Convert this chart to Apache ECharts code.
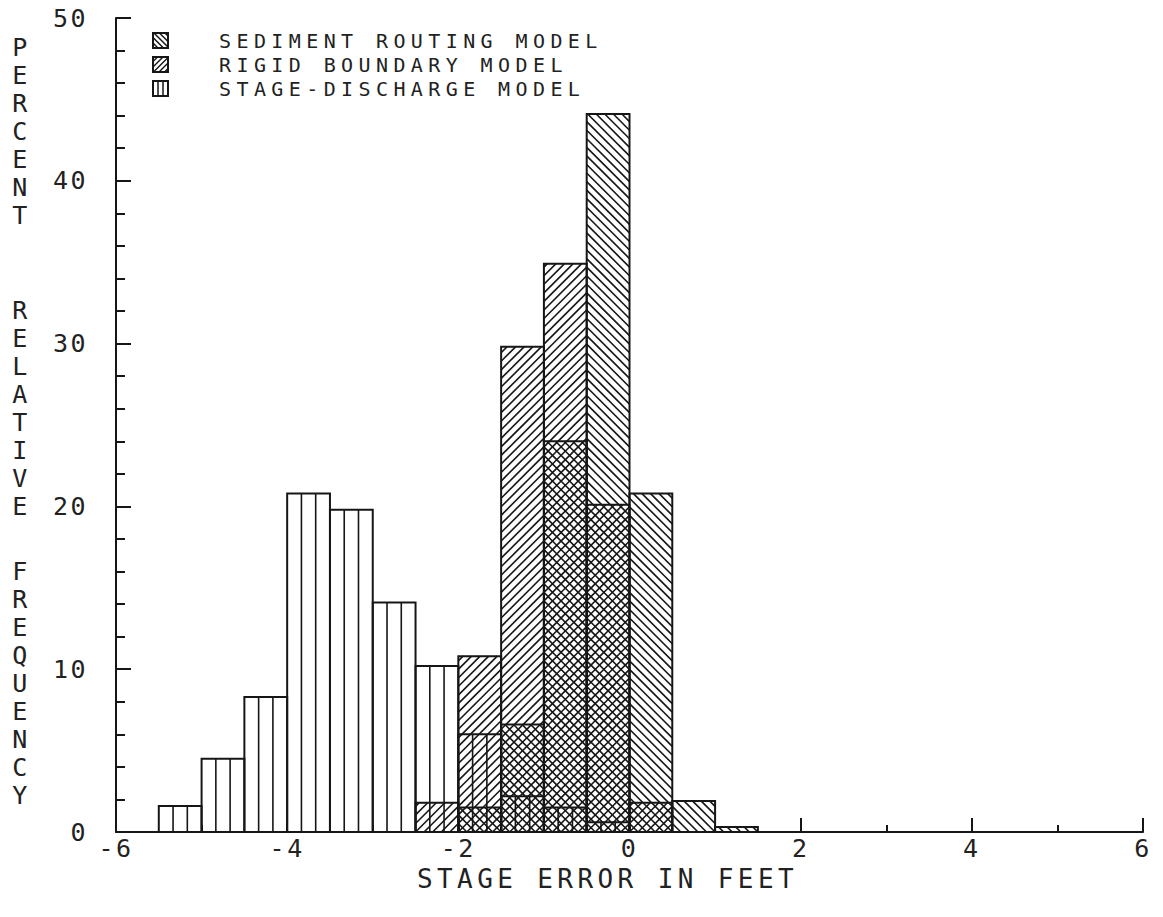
<!DOCTYPE html>
<html><head><meta charset="utf-8">
<script src="https://cdn.jsdelivr.net/npm/echarts@6/dist/echarts.min.js"></script>
<style>
html,body{margin:0;padding:0;background:#fff;}
#chart{width:1163px;height:917px;}
#chart text{letter-spacing:2.5px;}
</style></head><body><div id="chart"></div>
<script>
// ---- data ----
const binStarts = [-5.5,-5,-4.5,-4,-3.5,-3,-2.5,-2,-1.5,-1,-0.5,0,0.5,1];
const binWidth = 0.5;
const stageDischarge  = [1.6,4.5,8.3,20.8,19.8,14.1,10.2,6.0,2.2,1.5,0.6,0,0,0];
const rigidBoundary   = [0,0,0,0,0,0,1.8,10.8,29.8,34.9,20.1,1.8,0,0];
const sedimentRouting = [0,0,0,0,0,0,0,1.5,6.6,24.0,44.1,20.8,1.9,0.3];
const xTickValues = [-6,-4,-2,0,2,4,6];
const yTickValues = [0,10,20,30,40,50];
const legendNames = ['SEDIMENT ROUTING MODEL','RIGID BOUNDARY MODEL','STAGE-DISCHARGE MODEL'];
const yTitleWords = ['PERCENT','RELATIVE','FREQUENCY'];
const xTitle = 'STAGE ERROR IN FEET';

// ---- drawing helpers ----
const FONT = '"DejaVu Sans Mono", monospace';
const INK = '#161616';
const TXT = '#222';

function hatch(x0, y0, x1, y1, kind, ox, oy, p, lw) {
  const out = [];
  const st = {stroke: INK, lineWidth: lw, fill: null};
  if (kind === 'v') {
    const w = x1 - x0;
    for (let k = 1; k < 3; k++) {
      const x = x0 + w * k / 3;
      out.push({type: 'line', shape: {x1: x, y1: y0, x2: x, y2: y1}, style: st, silent: true});
    }
  } else if (kind === '/') {
    const base = ox + oy;
    const cmin = x0 + y0, cmax = x1 + y1;
    for (let k = Math.ceil((cmin - base) / p); base + k * p <= cmax; k++) {
      const c = base + k * p;
      const xa = Math.max(x0, c - y1), xb = Math.min(x1, c - y0);
      if (xb - xa > 0.4) out.push({type: 'line', shape: {x1: xa, y1: c - xa, x2: xb, y2: c - xb}, style: st, silent: true});
    }
  } else {
    const base = ox - oy;
    const cmin = x0 - y1, cmax = x1 - y0;
    for (let k = Math.ceil((cmin - base) / p); base + k * p <= cmax; k++) {
      const c = base + k * p;
      const xa = Math.max(x0, c + y0), xb = Math.min(x1, c + y1);
      if (xb - xa > 0.4) out.push({type: 'line', shape: {x1: xa, y1: xa - c, x2: xb, y2: xb - c}, style: st, silent: true});
    }
  }
  return out;
}

function makeRender(kind) {
  return function (params, api) {
    const s = api.value(0), e = api.value(1), v = api.value(2);
    if (!(v > 0)) return null;
    const a = api.coord([s, 0]), b = api.coord([e, v]);
    const x0 = a[0], x1 = b[0], y0 = b[1], y1 = a[1];
    const o = api.coord([-6, 0]);
    const p = (api.coord([binWidth, 0])[0] - api.coord([0, 0])[0]) / 5;
    const children = hatch(x0, y0, x1, y1, kind, o[0], o[1], p, 1.6);
    children.push({type: 'rect', shape: {x: x0, y: y0, width: x1 - x0, height: y1 - y0},
      style: {fill: null, stroke: INK, lineWidth: 2}});
    return {type: 'group', children: children};
  };
}

function toData(vals) {
  return binStarts.map((s, i) => [s, s + binWidth, vals[i]]);
}

// legend keys
const legendKinds = ['\\', '/', 'v'];
const legendTop = [31, 55, 79];
const legendGraphics = [];
legendNames.forEach((name, i) => {
  const kx = 153, ky = legendTop[i] + 2, kw = 15, kh = 15;
  const kids = hatch(kx, ky, kx + kw, ky + kh, legendKinds[i], 0, 0, 5.5, 1.5);
  kids.push({type: 'rect', shape: {x: kx, y: ky, width: kw, height: kh}, style: {fill: null, stroke: INK, lineWidth: 2}});
  legendGraphics.push({type: 'group', children: kids});
  legendGraphics.push({type: 'text', x: 219, y: legendTop[i],
    style: {text: name, font: '20px ' + FONT, fill: TXT, textVerticalAlign: 'top'}});
});

// vertical y-axis title, one stacked word per block
const yTitleTops = [33, 296, 557];
const yTitleGraphics = yTitleWords.map((w, i) => ({
  type: 'text', x: 21, y: yTitleTops[i],
  style: {text: w.split('').join('\n'), font: '25px ' + FONT, fill: TXT, textAlign: 'center', lineHeight: 28}
}));

const chart = echarts.init(document.getElementById('chart'), null, {renderer: 'svg'});

// wider plotter-style letter spacing for the legend and the x title
function spaceLetters() {
  document.querySelectorAll('#chart text').forEach(t => {
    const s = t.textContent;
    if (legendNames.indexOf(s) >= 0) t.style.letterSpacing = '5.4px';
    else if (s === xTitle) t.style.letterSpacing = '4.4px';
  });
}
chart.on('rendered', spaceLetters);

chart.setOption({
  animation: false,
  backgroundColor: '#fff',
  grid: {left: 116, right: 20, top: 18, bottom: 85},
  xAxis: {
    type: 'value', min: -6, max: 6, interval: 2,
    axisLine: {show: true, onZero: false, lineStyle: {color: INK, width: 2}},
    axisTick: {show: true, inside: true, length: 14, lineStyle: {color: INK, width: 2}},
    minorTick: {show: true, splitNumber: 2, length: 7, lineStyle: {color: INK, width: 2}},
    splitLine: {show: false},
    axisLabel: {color: TXT, fontFamily: FONT, fontSize: 25, margin: 4,
      formatter: v => (xTickValues.indexOf(v) >= 0 ? String(v) : '')},
    name: xTitle, nameLocation: 'middle', nameGap: 33,
    nameTextStyle: {color: TXT, fontFamily: FONT, fontSize: 26, padding: [0, 44, 0, 0]}
  },
  yAxis: {
    type: 'value', min: 0, max: 50, interval: 10,
    axisLine: {show: true, onZero: false, lineStyle: {color: INK, width: 2}},
    axisTick: {show: true, inside: true, length: 15, lineStyle: {color: INK, width: 2}},
    minorTick: {show: true, splitNumber: 5, length: 9, lineStyle: {color: INK, width: 2}},
    splitLine: {show: false},
    axisLabel: {color: TXT, fontFamily: FONT, fontSize: 25, margin: 28,
      formatter: v => (yTickValues.indexOf(v) >= 0 ? String(v) : '')}
  },
  graphic: legendGraphics.concat(yTitleGraphics),
  series: [
    {type: 'custom', name: legendNames[2], renderItem: makeRender('v'), data: toData(stageDischarge), encode: {x: [0, 1], y: 2}, clip: false, silent: true},
    {type: 'custom', name: legendNames[1], renderItem: makeRender('/'), data: toData(rigidBoundary), encode: {x: [0, 1], y: 2}, clip: false, silent: true},
    {type: 'custom', name: legendNames[0], renderItem: makeRender('\\'), data: toData(sedimentRouting), encode: {x: [0, 1], y: 2}, clip: false, silent: true}
  ]
});
spaceLetters();
setTimeout(spaceLetters, 0);
</script></body></html>
